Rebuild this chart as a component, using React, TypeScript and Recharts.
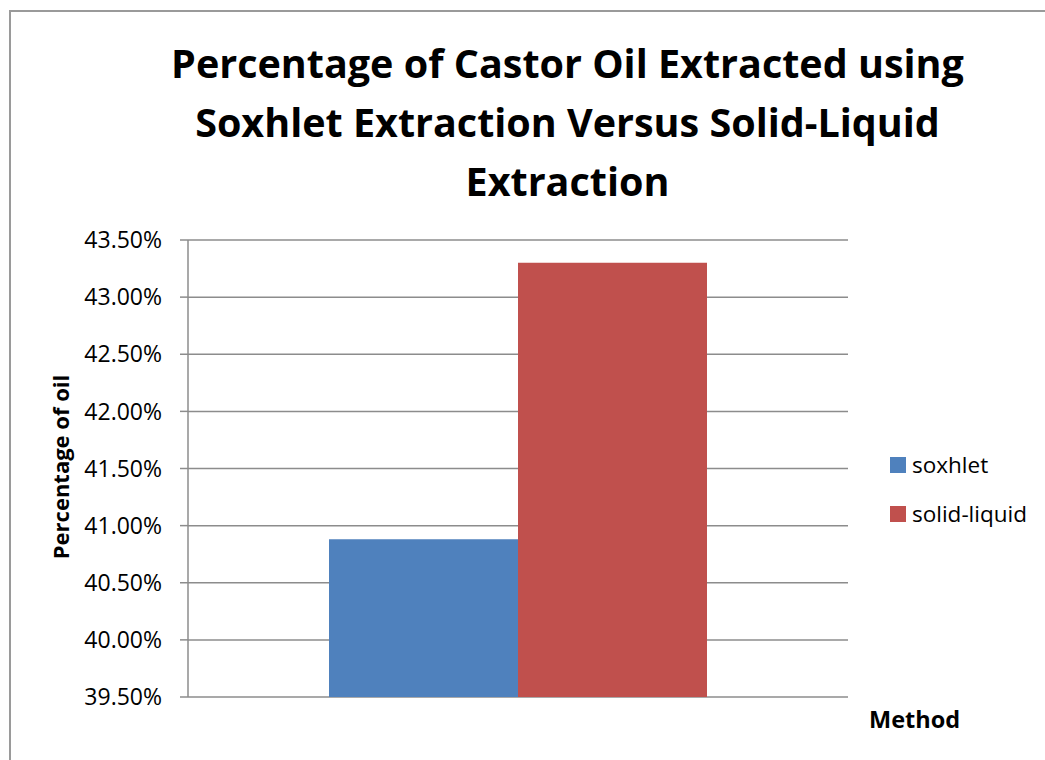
import React from 'react';
import { BarChart, Bar, XAxis, YAxis, CartesianGrid } from 'recharts';

const methods = ['Method'];
const soxhlet = [40.88];
const solidLiquid = [43.3];
const yTicks = [39.5, 40, 40.5, 41, 41.5, 42, 42.5, 43, 43.5];
const titleLines = [
  'Percentage of Castor Oil Extracted using',
  'Soxhlet Extraction Versus Solid-Liquid',
  'Extraction',
];

const series = [
  { key: 'soxhlet', name: 'soxhlet', color: '#4f81bd' },
  { key: 'solidLiquid', name: 'solid-liquid', color: '#c0504d' },
];

const data = methods.map((m, i) => ({
  method: m,
  soxhlet: soxhlet[i],
  solidLiquid: solidLiquid[i],
}));

const FONT = '"Open Sans", sans-serif';

const LegendBox = () => (
  <div
    style={{
      position: 'absolute',
      left: 890,
      top: 440,
      fontFamily: FONT,
      fontSize: 22.5,
      color: '#000',
    }}
  >
    {series.map((s) => (
      <div key={s.key} style={{ display: 'flex', alignItems: 'center', height: 49 }}>
        <span style={{ width: 16, height: 16, background: s.color, marginRight: 6 }} />
        <span>{s.name}</span>
      </div>
    ))}
  </div>
);

const App: React.FC = () => {
  return (
    <div style={{ position: 'relative', width: 1045, height: 760, overflow: 'hidden', background: '#fff' }}>
      <style>{'body{margin:0}'}</style>
      {/* chart frame, only top and left edges fall inside the view */}
      <div
        style={{
          position: 'absolute',
          left: 9,
          top: 10,
          width: 1200,
          height: 900,
          border: '2px solid #9a9a9a',
        }}
      />
      <div
        style={{
          position: 'absolute',
          left: 0,
          top: 34,
          width: 1135,
          textAlign: 'center',
          fontFamily: FONT,
          fontWeight: 700,
          fontSize: 39.5,
          lineHeight: '59px',
          color: '#000',
        }}
      >
        {titleLines.map((t) => (
          <div key={t}>{t}</div>
        ))}
      </div>
      <div
        style={{
          position: 'absolute',
          left: 60,
          top: 467,
          transform: 'translate(-50%, -50%) rotate(-90deg)',
          whiteSpace: 'nowrap',
          fontFamily: FONT,
          fontWeight: 700,
          fontSize: 22,
          color: '#000',
        }}
      >
        Percentage of oil
      </div>
      <div
        style={{
          position: 'absolute',
          left: 869,
          top: 703,
          fontFamily: FONT,
          fontWeight: 700,
          fontSize: 23.5,
          color: '#000',
        }}
      >
        Method
      </div>
      <div style={{ position: 'absolute', left: 0, top: 0 }}>
        <BarChart
          width={1045}
          height={760}
          data={data}
          margin={{ top: 240, right: 197, left: 68, bottom: 63 }}
          barCategoryGap={141}
          barGap={0}
        >
          <CartesianGrid vertical={false} stroke="#8c8c8c" strokeWidth={1.5} />
          <XAxis dataKey="method" hide />
          <YAxis
            width={120}
            domain={[39.5, 43.5]}
            ticks={yTicks}
            interval={0}
            tickFormatter={(v: number) => `${v.toFixed(2)}%`}
            tick={{ fill: '#000', fontSize: 23, fontFamily: FONT }}
            tickSize={8}
            tickMargin={18}
            axisLine={{ stroke: '#8c8c8c', strokeWidth: 1.5 }}
            tickLine={{ stroke: '#8c8c8c', strokeWidth: 1.5 }}
          />
          {series.map((s) => (
            <Bar key={s.key} dataKey={s.key} name={s.name} fill={s.color} isAnimationActive={false} />
          ))}
        </BarChart>
      </div>
      <LegendBox />
    </div>
  );
};

export default App;
